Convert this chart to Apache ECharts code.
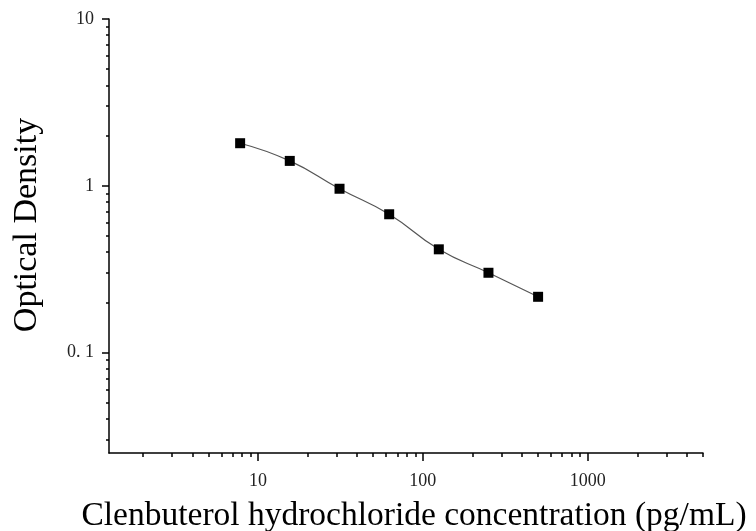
<!DOCTYPE html>
<html>
<head>
<meta charset="utf-8">
<script src="https://cdn.jsdelivr.net/npm/echarts@6/dist/echarts.min.js"></script>
<style>
  html, body { margin: 0; padding: 0; background: #fff; }
  #chart { width: 756px; height: 531px; }
</style>
</head>
<body>
<div id="chart"></div>
<script>
// standard curve data (pg/mL vs OD)
const concentrations = [7.8, 15.6, 31.25, 62.5, 125, 250, 500];
const opticalDensity = [1.80, 1.41, 0.96, 0.675, 0.416, 0.301, 0.216];

const xMajorTicks = [10, 100, 1000];
const xMinorTicks = [2, 3, 4, 5, 6, 7, 8, 9, 20, 30, 40, 50, 60, 70, 80, 90,
    200, 300, 400, 500, 600, 700, 800, 900, 2000, 3000, 4000, 5000];
const yMajorTicks = [0.1, 1, 10];
const yMinorTicks = [0.03, 0.04, 0.05, 0.06, 0.07, 0.08, 0.09,
    0.2, 0.3, 0.4, 0.5, 0.6, 0.7, 0.8, 0.9, 2, 3, 4, 5, 6, 7, 8, 9];

const serif = '"Liberation Serif", "DejaVu Serif", serif';
const lineStyle = { color: '#000', width: 1.5 };

const chart = echarts.init(document.getElementById('chart'));

const xBase = {
    type: 'log',
    position: 'bottom',
    min: 1.25,
    max: 5000,
    splitLine: { show: false },
    minorTick: { show: false }
};
const yBase = {
    type: 'log',
    position: 'left',
    min: 0.025,
    max: 10,
    splitLine: { show: false },
    minorTick: { show: false }
};

const option = {
    animation: false,
    backgroundColor: '#fff',
    grid: { left: 109, right: 53, top: 19, bottom: 78, containLabel: false, outerBoundsMode: 'none' },
    xAxis: [
        Object.assign({}, xBase, {
            name: 'Clenbuterol hydrochloride concentration (pg/mL)',
            nameLocation: 'middle',
            nameGap: 46,
            nameTextStyle: { fontFamily: serif, fontSize: 33.5, color: '#000', padding: [0, 0, 0, 16] },
            axisLine: { lineStyle: lineStyle },
            axisTick: { customValues: xMajorTicks, length: 8, lineStyle: lineStyle },
            axisLabel: {
                customValues: xMajorTicks,
                fontFamily: serif, fontSize: 18, color: '#222', margin: 19,
                formatter: v => String(Math.round(v))
            }
        }),
        Object.assign({}, xBase, {
            axisLine: { show: false },
            axisTick: { customValues: xMinorTicks, length: 4, lineStyle: lineStyle },
            axisLabel: { show: false }
        })
    ],
    yAxis: [
        Object.assign({}, yBase, {
            name: 'Optical Density',
            nameLocation: 'middle',
            nameGap: 65,
            nameTextStyle: { fontFamily: serif, fontSize: 34, color: '#000', padding: [0, 0, 0, 22] },
            axisLine: { lineStyle: lineStyle },
            axisTick: { customValues: yMajorTicks, length: 7, lineStyle: lineStyle },
            axisLabel: {
                customValues: yMajorTicks,
                fontFamily: serif, fontSize: 18, color: '#222', margin: 15,
                formatter: v => (Math.abs(v - 0.1) < 1e-9 ? '0. 1' : String(Math.round(v)))
            }
        }),
        Object.assign({}, yBase, {
            axisLine: { show: false },
            axisTick: { customValues: yMinorTicks, length: 3, lineStyle: lineStyle },
            axisLabel: { show: false }
        })
    ],
    series: [{
        type: 'line',
        xAxisIndex: 0,
        yAxisIndex: 0,
        data: concentrations.map((c, i) => [c, opticalDensity[i]]),
        smooth: 0.5,
        symbol: 'rect',
        symbolSize: 10,
        itemStyle: { color: '#000' },
        lineStyle: { color: '#555', width: 1.2 }
    }]
};

chart.setOption(option);
</script>
</body>
</html>
